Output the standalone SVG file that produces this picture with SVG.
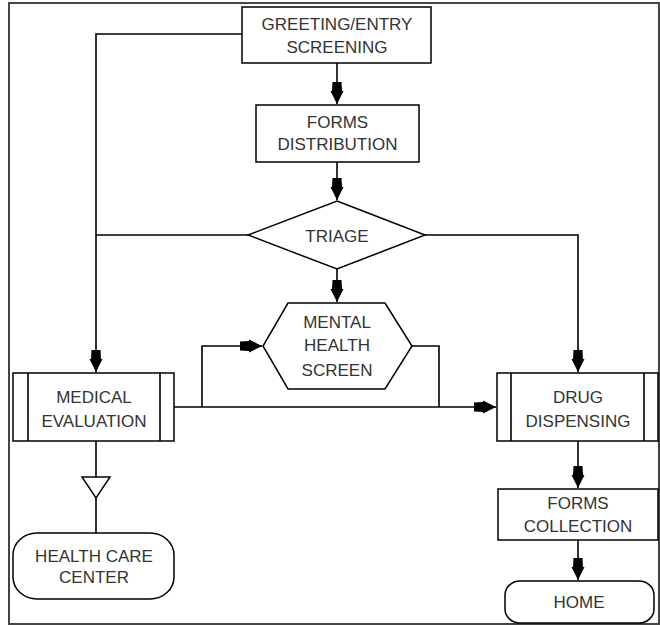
<svg xmlns="http://www.w3.org/2000/svg" width="660" height="626" viewBox="0 0 660 626">
<defs>
<style>
.box{fill:#fff;stroke:#000;stroke-width:1.5}
.ln{fill:none;stroke:#000;stroke-width:1.6}
.t{font-family:"Liberation Sans",Arial,sans-serif;font-size:17px;fill:#333;text-anchor:middle}
</style>
<marker id="ah" viewBox="-23 -8 25 16" refX="0" refY="0" markerWidth="25" markerHeight="16" markerUnits="userSpaceOnUse" orient="auto">
<path d="M-22,-4.5 L-13,-5 L-13,-6.5 L0,0 L-13,6.5 L-13,5 L-22,4.5 Z" fill="#000"/>
</marker>
</defs>
<rect x="9" y="3" width="650" height="621" fill="#fff" stroke="#444" stroke-width="2"/>
<g id="connectors">
<path class="ln" d="M242,34 H96 V372" marker-end="url(#ah)"/>
<path class="ln" d="M248,235 H96"/>
<path class="ln" d="M337,63 V104" marker-end="url(#ah)"/>
<path class="ln" d="M337,162 V200" marker-end="url(#ah)"/>
<path class="ln" d="M337,269 V302" marker-end="url(#ah)"/>
<path class="ln" d="M425,235 H578 V372" marker-end="url(#ah)"/>
<path class="ln" d="M174,407 H496" marker-end="url(#ah)"/>
<path class="ln" d="M202,407 V346 H262" marker-end="url(#ah)"/>
<path class="ln" d="M412,346 H439 V407"/>
<path class="ln" d="M96,441 V477"/>
<path class="ln" d="M96,498 V533"/>
<path class="ln" d="M578,441 V488" marker-end="url(#ah)"/>
<path class="ln" d="M578,540 V580" marker-end="url(#ah)"/>
<polygon points="82,477 110,477 96,498" fill="#fff" stroke="#000" stroke-width="1.5"/>
</g>
<g id="greeting">
<rect class="box" x="242" y="7" width="189" height="56"/>
<text class="t" x="337" y="30">GREETING/ENTRY</text>
<text class="t" x="337" y="53">SCREENING</text>
</g>
<g id="forms-distribution">
<rect class="box" x="256" y="105" width="163" height="57"/>
<text class="t" x="337.5" y="128">FORMS</text>
<text class="t" x="337.5" y="150">DISTRIBUTION</text>
</g>
<g id="triage">
<polygon class="box" points="337,201 425,235 337,269 248,235"/>
<text class="t" x="337" y="242">TRIAGE</text>
</g>
<g id="mental-health">
<polygon class="box" points="288,303 385,303 412,346 385,389 288,389 263,346"/>
<text class="t" x="337" y="328">MENTAL</text>
<text class="t" x="337" y="351">HEALTH</text>
<text class="t" x="337" y="376">SCREEN</text>
</g>
<g id="medical-evaluation">
<rect class="box" x="13" y="373" width="161" height="68"/>
<path class="ln" d="M28,373 V441 M160,373 V441"/>
<text class="t" x="94" y="403">MEDICAL</text>
<text class="t" x="94" y="427">EVALUATION</text>
</g>
<g id="drug-dispensing">
<rect class="box" x="497" y="373" width="161" height="68"/>
<path class="ln" d="M511,373 V441 M644,373 V441"/>
<text class="t" x="578" y="403">DRUG</text>
<text class="t" x="578" y="427">DISPENSING</text>
</g>
<g id="health-care-center">
<rect class="box" x="13" y="533" width="161" height="66" rx="24" ry="22"/>
<text class="t" x="94" y="562">HEALTH CARE</text>
<text class="t" x="94" y="583">CENTER</text>
</g>
<g id="forms-collection">
<rect class="box" x="498" y="489" width="160" height="51"/>
<text class="t" x="578" y="509">FORMS</text>
<text class="t" x="578" y="532">COLLECTION</text>
</g>
<g id="home">
<rect class="box" x="505" y="581" width="149" height="42" rx="15" ry="14"/>
<text class="t" x="579" y="608">HOME</text>
</g>
</svg>
